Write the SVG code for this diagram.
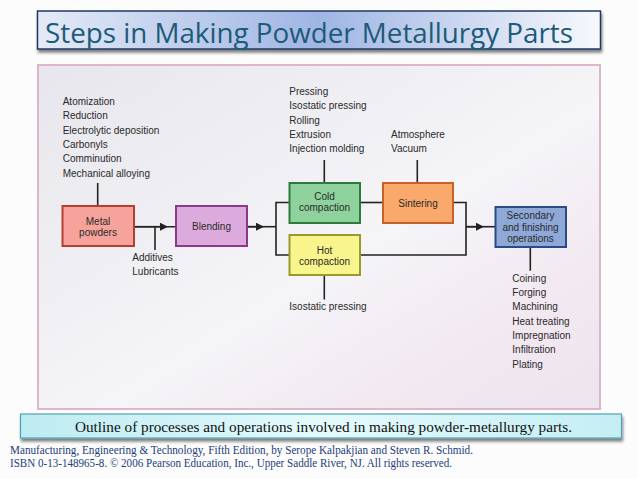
<svg xmlns="http://www.w3.org/2000/svg" width="638" height="479" viewBox="0 0 638 479">
<defs>
<linearGradient id="titleGrad" x1="0" y1="0" x2="1" y2="0">
<stop offset="0" stop-color="#e4eaf7"/>
<stop offset="0.5" stop-color="#9fb5e4"/>
<stop offset="1" stop-color="#f7f9fd"/>
</linearGradient>
<linearGradient id="panelGrad" x1="0" y1="0" x2="1" y2="1">
<stop offset="0" stop-color="#e6e6ec"/>
<stop offset="0.55" stop-color="#f5f5f8"/>
<stop offset="0.8" stop-color="#f2e8f0"/>
<stop offset="1" stop-color="#eee4ee"/>
</linearGradient>
<linearGradient id="capGrad" x1="0" y1="0" x2="1" y2="0">
<stop offset="0" stop-color="#bdebf2"/>
<stop offset="0.5" stop-color="#e4fafd"/>
<stop offset="1" stop-color="#c4eef4"/>
</linearGradient>
<filter id="shadow" x="-5%" y="-20%" width="110%" height="160%">
<feGaussianBlur in="SourceAlpha" stdDeviation="1.5"/>
<feOffset dx="1" dy="3" result="b"/>
<feComponentTransfer><feFuncA type="linear" slope="0.5"/></feComponentTransfer>
<feMerge><feMergeNode/><feMergeNode in="SourceGraphic"/></feMerge>
</filter>
<marker id="arr" viewBox="0 0 10 10" refX="5" refY="5" markerWidth="8" markerHeight="8" markerUnits="userSpaceOnUse" orient="auto">
<path d="M0,0 L10,5 L0,10 z" fill="#222"/>
</marker>
</defs>
<style>
.lbl{font-family:"Liberation Sans",Arial,sans-serif;font-size:10px;fill:#2a2a2a;}
.nt{font-family:"Liberation Sans",Arial,sans-serif;font-size:10px;fill:#2a2a2a;text-anchor:middle;}
.ln{stroke:#222;stroke-width:1.6;fill:none;}
.box{stroke-width:2;}
</style>
<rect x="0" y="0" width="638" height="479" fill="#fcfcfc"/>

<g id="title">
<rect x="37.5" y="11" width="563" height="38" fill="url(#titleGrad)" stroke="#1f3864" stroke-width="1.5" filter="url(#shadow)"/>
<text x="45" y="43" font-family="Open Sans, Liberation Sans, sans-serif" font-size="28" fill="#1d5b78" textLength="528" lengthAdjust="spacingAndGlyphs">Steps in Making Powder Metallurgy Parts</text>
</g>

<g id="panel">
<rect x="38" y="65" width="562" height="344" fill="url(#panelGrad)" stroke="#dcb6cd" stroke-width="2"/>
</g>

<g id="connectors">
<line class="ln" x1="97.7" y1="206" x2="97.7" y2="183"/>
<line class="ln" x1="134" y1="226.7" x2="176" y2="226.7"/>
<line class="ln" x1="134" y1="226.7" x2="164" y2="226.7" marker-end="url(#arr)"/>
<line class="ln" x1="155" y1="226.7" x2="155" y2="250"/>
<line class="ln" x1="247" y1="226.7" x2="276" y2="226.7"/>
<line class="ln" x1="247" y1="226.7" x2="260" y2="226.7" marker-end="url(#arr)"/>
<polyline class="ln" points="289.5,202.5 276,202.5 276,255 289.5,255"/>
<line class="ln" x1="324.3" y1="183" x2="324.3" y2="160"/>
<line class="ln" x1="324.3" y1="275" x2="324.3" y2="299.5"/>
<line class="ln" x1="360" y1="202.5" x2="383" y2="202.5"/>
<line class="ln" x1="417.3" y1="183" x2="417.3" y2="160"/>
<polyline class="ln" points="453,202.5 466,202.5 466,255 360,255"/>
<line class="ln" x1="466" y1="226.7" x2="495.5" y2="226.7"/>
<line class="ln" x1="466" y1="226.7" x2="480" y2="226.7" marker-end="url(#arr)"/>
<line class="ln" x1="530.3" y1="246.7" x2="530.3" y2="270.7"/>
</g>

<g id="metal-powders">
<rect class="box" x="62.5" y="206" width="71.5" height="40" fill="#f5a39b" stroke="#b83c32"/>
<text class="nt" x="98" y="225">Metal</text>
<text class="nt" x="98" y="236">powders</text>
</g>

<g id="blending">
<rect class="box" x="176" y="206" width="71" height="40" fill="#dcaadc" stroke="#8a3a8c"/>
<text class="nt" x="211.5" y="230">Blending</text>
</g>

<g id="cold-compaction">
<rect class="box" x="289.5" y="183" width="70.5" height="40" fill="#8ed29d" stroke="#2e7a3a"/>
<text class="nt" x="324.5" y="200">Cold</text>
<text class="nt" x="324.5" y="211">compaction</text>
</g>

<g id="hot-compaction">
<rect class="box" x="289.5" y="235" width="70.5" height="40" fill="#f8f58c" stroke="#9a992e"/>
<text class="nt" x="324.5" y="253.5">Hot</text>
<text class="nt" x="324.5" y="264.5">compaction</text>
</g>

<g id="sintering">
<rect class="box" x="383" y="183" width="70" height="40" fill="#f9a96b" stroke="#c8602a"/>
<text class="nt" x="418" y="206.5">Sintering</text>
</g>

<g id="secondary">
<rect class="box" x="495.5" y="207" width="70.5" height="40" fill="#8ea9d8" stroke="#2b4b86"/>
<text class="nt" x="530.5" y="219">Secondary</text>
<text class="nt" x="530.5" y="230.5">and finishing</text>
<text class="nt" x="530.5" y="241.5">operations</text>
</g>

<g id="powder-methods">
<text class="lbl" x="62.7" y="105">Atomization</text>
<text class="lbl" x="62.7" y="119.3">Reduction</text>
<text class="lbl" x="62.7" y="133.6">Electrolytic deposition</text>
<text class="lbl" x="62.7" y="147.9">Carbonyls</text>
<text class="lbl" x="62.7" y="162.2">Comminution</text>
<text class="lbl" x="62.7" y="176.5">Mechanical alloying</text>
</g>

<g id="additives">
<text class="lbl" x="132.3" y="260.7">Additives</text>
<text class="lbl" x="132.3" y="275">Lubricants</text>
</g>

<g id="cold-methods">
<text class="lbl" x="289.3" y="95">Pressing</text>
<text class="lbl" x="289.3" y="109.3">Isostatic pressing</text>
<text class="lbl" x="289.3" y="123.6">Rolling</text>
<text class="lbl" x="289.3" y="137.9">Extrusion</text>
<text class="lbl" x="289.3" y="152.2">Injection molding</text>
</g>

<g id="sinter-atmos">
<text class="lbl" x="391" y="137.9">Atmosphere</text>
<text class="lbl" x="391" y="152.2">Vacuum</text>
</g>

<g id="hot-methods">
<text class="lbl" x="289.3" y="310">Isostatic pressing</text>
</g>

<g id="finishing-ops">
<text class="lbl" x="512.3" y="281.7">Coining</text>
<text class="lbl" x="512.3" y="296">Forging</text>
<text class="lbl" x="512.3" y="310.3">Machining</text>
<text class="lbl" x="512.3" y="324.6">Heat treating</text>
<text class="lbl" x="512.3" y="338.9">Impregnation</text>
<text class="lbl" x="512.3" y="353.2">Infiltration</text>
<text class="lbl" x="512.3" y="367.5">Plating</text>
</g>

<g id="caption">
<rect x="20.5" y="414" width="601" height="24" fill="url(#capGrad)" stroke="#4fa4b2" stroke-width="1.2" filter="url(#shadow)"/>
<text x="75" y="431.5" font-family="Liberation Serif, Times New Roman, serif" font-size="15" fill="#111" textLength="497" lengthAdjust="spacingAndGlyphs">Outline of processes and operations involved in making powder-metallurgy parts.</text>
</g>

<g id="footer">
<text x="10" y="454" font-family="Liberation Serif, Times New Roman, serif" font-size="11.5" fill="#23407a" textLength="463" lengthAdjust="spacingAndGlyphs">Manufacturing, Engineering &amp; Technology, Fifth Edition, by Serope Kalpakjian and Steven R. Schmid.</text>
<text x="10" y="466.5" font-family="Liberation Serif, Times New Roman, serif" font-size="11.5" fill="#23407a" textLength="442" lengthAdjust="spacingAndGlyphs">ISBN 0-13-148965-8. © 2006 Pearson Education, Inc., Upper Saddle River, NJ.  All rights reserved.</text>
</g>
</svg>
